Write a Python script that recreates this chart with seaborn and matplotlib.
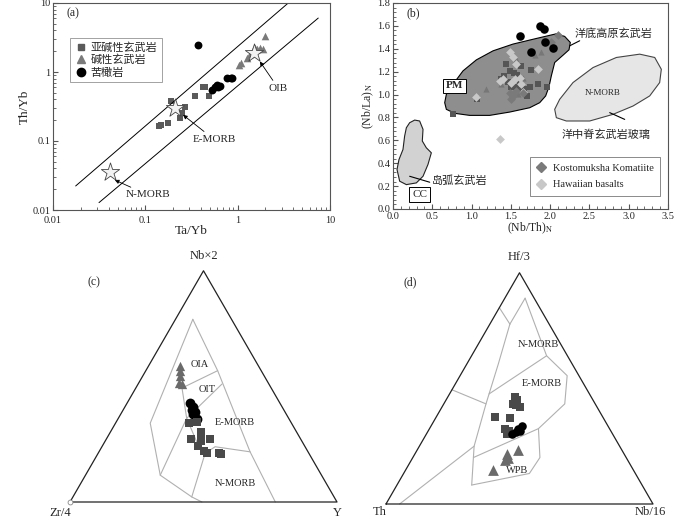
import numpy as np
import pandas as pd
import matplotlib
matplotlib.use('Agg')
import matplotlib.pyplot as plt
import seaborn as sns
from matplotlib.ticker import AutoMinorLocator, FuncFormatter, LogLocator
from matplotlib.lines import Line2D

# ---------------- (a) Th/Yb vs Ta/Yb ----------------
sub_tayb = [0.141, 0.149, 0.177, 0.192, 0.236, 0.252, 0.268, 0.343, 0.423, 0.44, 0.487]
sub_thyb = [0.166, 0.171, 0.185, 0.382, 0.219, 0.253, 0.316, 0.452, 0.597, 0.61, 0.452]
alk_tayb = [1.04, 1.10, 1.25, 1.36, 1.45, 1.54, 1.63, 1.74, 1.87, 1.97]
alk_thyb = [1.26, 1.35, 1.59, 1.82, 2.10, 2.22, 2.15, 2.22, 2.15, 3.28]
pic_tayb = [0.373, 0.533, 0.566, 0.590, 0.615, 0.64, 0.776, 0.84, 0.87]
pic_thyb = [2.48, 0.552, 0.603, 0.652, 0.603, 0.62, 0.814, 0.81, 0.82]
ref_names = ['N-MORB', 'E-MORB', 'OIB']
ref_tayb = [0.041, 0.21, 1.5]
ref_thyb = [0.036, 0.30, 1.9]
array_upper = ([0.0176, 3.53], [0.0223, 10.0])
array_lower = ([0.0315, 7.46], [0.0128, 6.05])

# ---------------- (b) (Nb/La)N vs (Nb/Th)N ----------------
pm_field = [(0.658, 0.929), (0.679, 1.002), (0.764, 1.090), (0.891, 1.207), (1.061, 1.303),
            (1.273, 1.382), (1.527, 1.441), (1.824, 1.490), (2.079, 1.531), (2.185, 1.508),
            (2.257, 1.455), (2.240, 1.391), (2.164, 1.344), (2.058, 1.280), (2.015, 1.163),
            (1.986, 1.070), (1.943, 0.988), (1.867, 0.929), (1.740, 0.885), (1.485, 0.847),
            (1.230, 0.818), (0.976, 0.818), (0.785, 0.836), (0.679, 0.871)]
cc_field = [(0.212, 0.754), (0.276, 0.777), (0.339, 0.769), (0.382, 0.696), (0.373, 0.594),
            (0.424, 0.535), (0.488, 0.491), (0.445, 0.389), (0.382, 0.286), (0.297, 0.228),
            (0.170, 0.213), (0.085, 0.243), (0.051, 0.345), (0.076, 0.432), (0.127, 0.520),
            (0.148, 0.637), (0.170, 0.710)]
nmorb_field = [(2.058, 0.871), (2.121, 0.958), (2.291, 1.105), (2.546, 1.236), (2.843, 1.324),
               (3.140, 1.353), (3.331, 1.324), (3.415, 1.221), (3.394, 1.105), (3.267, 0.988),
               (3.055, 0.900), (2.800, 0.827), (2.503, 0.769), (2.206, 0.769), (2.079, 0.798)]

b_sq_x = [1.442, 1.409, 1.379, 1.485, 1.536, 1.578, 1.612, 1.633, 1.506, 1.561, 1.604, 1.663,
          1.740, 1.710, 1.846, 1.964, 1.069, 0.764, 1.464, 1.761]
b_sq_y = [1.265, 1.163, 1.134, 1.207, 1.192, 1.169, 1.105, 1.251, 1.070, 1.070, 1.040, 1.046,
          1.070, 0.988, 1.096, 1.070, 0.964, 0.827, 1.111, 1.216]
b_tri_x = [1.188, 1.570, 1.803, 1.888, 1.655, 1.379, 1.591]
b_tri_y = [1.052, 1.315, 1.344, 1.373, 1.148, 1.090, 1.002]
b_cir_x = [1.612, 1.867, 1.918, 1.930, 1.761, 2.036]
b_cir_y = [1.514, 1.601, 1.572, 1.455, 1.368, 1.411]
kost_x = [2.100, 2.015, 1.506, 1.527, 1.570, 1.485, 1.655]
kost_y = [1.523, 1.455, 0.958, 0.988, 1.032, 1.017, 1.017]
hawaii_x = [1.485, 1.527, 1.570, 1.846, 1.358, 1.400, 1.549, 1.612, 1.506, 1.052, 1.358, 1.655, 1.633]
hawaii_y = [1.368, 1.324, 1.265, 1.227, 1.119, 1.134, 1.134, 1.148, 1.105, 0.982, 0.608, 1.023, 1.090]

# ---------------- (c) Nb*2 - Zr/4 - Y (percent: top, right) ----------------
c_lines = [
    [(79.0, 6.5), (34.1, 13.0), (11.6, 28.0), (2.2, 44.5), (0.0, 49.4)],
    [(79.0, 6.5), (56.8, 26.9), (21.7, 56.6), (0.0, 76.9)],
    [(49.3, 17.3), (56.8, 26.9)],
    [(49.3, 17.3), (36.2, 25.6)],
    [(11.6, 28.0), (36.2, 25.6), (51.0, 31.4)],
    [(36.2, 25.6), (23.2, 36.9), (21.0, 40.1), (23.9, 42.4), (21.7, 56.6)],
    [(21.0, 40.1), (2.2, 44.5)],
]
c_tri_nb = [58.7, 56.5, 54.6, 51.4, 51.0]
c_tri_y = [11.9, 13.1, 14.0, 15.3, 16.3]
c_cir_nb = [42.8, 41.3, 39.9, 39.1, 38.1, 35.9]
c_cir_y = [23.4, 25.6, 25.7, 27.3, 27.0, 29.5]
c_sq_nb = [34.3, 34.5, 30.4, 28.6, 26.5, 27.1, 27.1, 24.2, 22.2, 21.0, 21.3, 20.7]
c_sq_y = [27.6, 30.3, 33.8, 34.7, 35.8, 31.7, 39.0, 36.0, 39.2, 40.8, 45.0, 46.1]
c_labels = [('OIA', 59.4, 19.0), ('OIT', 48.6, 27.0), ('E-MORB', 34.4, 44.7), ('N-MORB', 8.0, 57.9)]

# ---------------- (d) Hf/3 - Th - Nb/16 (percent: top, right) ----------------
d_lines = [
    [(84.9, 0.0), (77.8, 7.5)],
    [(89.0, 7.6), (77.8, 7.5)],
    [(77.8, 7.5), (60.5, 11.8), (43.3, 15.8), (25.0, 20.5), (8.2, 28.0)],
    [(49.4, 0.0), (43.3, 15.8)],
    [(89.0, 7.6), (64.1, 28.1), (55.5, 40.1), (43.3, 45.3), (32.6, 40.8), (20.1, 47.6),
     (13.2, 47.1), (8.2, 28.0)],
    [(64.1, 28.1), (47.6, 14.8)],
    [(20.1, 22.7), (32.6, 40.8)],
    [(0.0, 5.1), (25.0, 20.5)],
]
d_sq_hf = [46.2, 45.1, 43.3, 42.6, 41.9, 37.6, 37.2, 32.6, 30.4, 31.6]
d_sq_nb = [25.2, 26.4, 25.8, 27.4, 29.2, 22.0, 27.9, 28.3, 30.0, 30.4]
d_cir_hf = [33.6, 32.4, 31.1, 30.1, 31.6]
d_cir_nb = [34.0, 33.4, 33.1, 32.1, 34.4]
d_tri_hf = [23.2, 21.8, 19.7, 18.9, 14.9]
d_tri_nb = [37.9, 34.6, 36.0, 35.1, 32.5]
d_labels = [('N-MORB', 68.9, 22.6), ('E-MORB', 52.2, 32.2), ('WPB', 14.3, 41.8)]


def tern_xy(top, right):
    top = np.asarray(top, dtype=float) / 100.0
    right = np.asarray(right, dtype=float) / 100.0
    return right + top / 2.0, top * np.sqrt(3) / 2.0


sns.set_style('ticks')
plt.rcParams['font.family'] = ['Liberation Serif', 'Noto Sans CJK SC', 'DejaVu Sans']
plt.rcParams['mathtext.fontset'] = 'stix'
plt.rcParams['axes.linewidth'] = 0.8
plt.rcParams['axes.edgecolor'] = '#555555'

SQ = '#5a5a5a'
TRI = '#7a7a7a'
CIR = '#000000'

fig = plt.figure(figsize=(7, 5.21), dpi=100)

# ===== (a) =====
ax = fig.add_axes([53 / 700, 1 - 210 / 521, 277 / 700, 207 / 521])
ax.set_xscale('log')
ax.set_yscale('log')
ax.plot(*array_upper, color='black', lw=0.7)
ax.plot(*array_lower, color='black', lw=0.7)
sns.scatterplot(x=sub_tayb, y=sub_thyb, marker='s', color=SQ, s=24, linewidth=0, ax=ax)
sns.scatterplot(x=alk_tayb, y=alk_thyb, marker='^', color=TRI, s=30, linewidth=0, ax=ax)
sns.scatterplot(x=pic_tayb, y=pic_thyb, marker='o', color=CIR, s=32, linewidth=0, ax=ax)
sns.scatterplot(x=ref_tayb, y=ref_thyb, marker='*', color='#f2f2f2', edgecolor='#444444',
                s=190, linewidth=0.6, ax=ax, zorder=5)
arrow = dict(arrowstyle='-|>', color='black', lw=0.6, shrinkA=0, shrinkB=0, mutation_scale=6)
ax.annotate('N-MORB', xy=(0.0467, 0.0272), xytext=(0.0614, 0.0165), ha='left', va='center',
            fontsize=8, arrowprops=arrow)
ax.annotate('E-MORB', xy=(0.256, 0.239), xytext=(0.552, 0.106), ha='center', va='center',
            fontsize=8, arrowprops=arrow)
ax.annotate('OIB', xy=(1.74, 1.42), xytext=(2.75, 0.583), ha='center', va='center',
            fontsize=8, arrowprops=arrow)
ax.set_xlim(0.01, 10)
ax.set_ylim(0.01, 10)
fmt = FuncFormatter(lambda v, p: f'{v:g}')
ax.xaxis.set_major_formatter(fmt)
ax.yaxis.set_major_formatter(fmt)
ax.tick_params(which='both', direction='in', top=False, right=False, labelsize=7.5, pad=2,
               color='#555555')
ax.tick_params(axis='x', which='major', pad=4)
ax.tick_params(which='major', length=3.5)
ax.tick_params(which='minor', length=2)
ax.set_xlabel('Ta/Yb', fontsize=9.5, labelpad=0)
ax.set_ylabel('Th/Yb', fontsize=9.5, labelpad=1)
ax.text(0.05, 0.95, '(a)', transform=ax.transAxes, fontsize=8.5, va='center')
handles = [Line2D([], [], marker='s', color=SQ, ls='', markersize=5),
           Line2D([], [], marker='^', color=TRI, ls='', markersize=6),
           Line2D([], [], marker='o', color=CIR, ls='', markersize=6)]
leg = ax.legend(handles, ['亚碱性玄武岩', '碱性玄武岩', '苦橄岩'], loc='upper left',
                bbox_to_anchor=(0.04, 0.86), fontsize=8, frameon=True, fancybox=False,
                edgecolor='#777777', handletextpad=0.3, borderpad=0.4, labelspacing=0.2,
                handlelength=1.2)
leg.get_frame().set_linewidth(0.6)

# ===== (b) =====
bx = fig.add_axes([393 / 700, 1 - 209 / 521, 275 / 700, 206 / 521])
bx.fill(*zip(*pm_field), facecolor='#8e8e8e', edgecolor='black', lw=0.8, zorder=1)
bx.fill(*zip(*cc_field), facecolor='#d2d2d2', edgecolor='#222222', lw=0.8, zorder=1)
bx.fill(*zip(*nmorb_field), facecolor='#e6e6e6', edgecolor='#444444', lw=0.8, zorder=1)
sns.scatterplot(x=b_sq_x, y=b_sq_y, marker='s', color='#555555', s=16, linewidth=0, ax=bx, zorder=3)
sns.scatterplot(x=b_tri_x, y=b_tri_y, marker='^', color='#777777', s=20, linewidth=0, ax=bx, zorder=3)
sns.scatterplot(x=hawaii_x, y=hawaii_y, marker='D', color='#c8c8c8', s=20, linewidth=0, ax=bx, zorder=3)
sns.scatterplot(x=kost_x, y=kost_y, marker='D', color='#7a7a7a', s=20, linewidth=0, ax=bx, zorder=3)
sns.scatterplot(x=b_cir_x, y=b_cir_y, marker='o', color='black', s=38, linewidth=0, ax=bx, zorder=4)
bx.text(0.785, 1.075, 'PM', fontsize=8, fontweight='bold', ha='center', va='center',
        bbox=dict(boxstyle='square,pad=0.25', facecolor='white', edgecolor='black', lw=0.7))
bx.text(0.339, 0.126, 'CC', fontsize=8, ha='center', va='center',
        bbox=dict(boxstyle='square,pad=0.25', facecolor='white', edgecolor='black', lw=0.7))
bx.text(2.673, 1.017, 'N-MORB', fontsize=6.5, ha='center', va='center')
bx.text(2.81, 1.534, '洋底高原玄武岩', fontsize=8, ha='center', va='center')
bx.text(2.715, 0.652, '洋中脊玄武岩玻璃', fontsize=8, ha='center', va='center')
bx.text(0.844, 0.243, '岛弧玄武岩', fontsize=8, ha='center', va='center')
bx.plot([2.249, 2.376], [1.426, 1.470], color='black', lw=0.8)
bx.plot([2.758, 2.949], [0.842, 0.783], color='black', lw=0.8)
bx.plot([0.212, 0.467], [0.286, 0.234], color='black', lw=0.8)
bx.set_xlim(0, 3.5)
bx.set_ylim(0, 1.8)
bx.set_xticks(np.arange(0, 3.51, 0.5))
bx.set_yticks(np.arange(0, 1.81, 0.2))
bx.xaxis.set_major_formatter(FuncFormatter(lambda v, p: f'{v:.1f}'))
bx.yaxis.set_major_formatter(FuncFormatter(lambda v, p: f'{v:.1f}'))
bx.xaxis.set_minor_locator(AutoMinorLocator(5))
bx.yaxis.set_minor_locator(AutoMinorLocator(5))
bx.tick_params(which='both', direction='in', top=False, right=False, labelsize=7.5, pad=2,
               color='#555555')
bx.tick_params(which='major', length=3.5)
bx.tick_params(which='minor', length=2)
bx.set_xlabel('(Nb/Th)$_\\mathrm{N}$', fontsize=8.5, labelpad=0)
bx.set_ylabel('(Nb/La)$_\\mathrm{N}$', fontsize=8.5, labelpad=1)
bx.text(0.05, 0.95, '(b)', transform=bx.transAxes, fontsize=8.5, va='center')
bhandles = [Line2D([], [], marker='D', color='#7a7a7a', ls='', markersize=5),
            Line2D([], [], marker='D', color='#c8c8c8', ls='', markersize=5)]
bleg = bx.legend(bhandles, ['Kostomuksha Komatiite', 'Hawaiian basalts'], loc='lower right',
                 bbox_to_anchor=(0.99, 0.04), fontsize=7.5, frameon=True, fancybox=False,
                 edgecolor='#555555', handletextpad=0.6, borderpad=0.6, labelspacing=0.7,
                 handlelength=1.0)
bleg.get_frame().set_linewidth(0.6)


def ternary_frame(ax):
    ax.plot([0, 1, 0.5, 0], [0, 0, np.sqrt(3) / 2, 0], color='#222222', lw=0.9, zorder=2)
    ax.set_axis_off()


# ===== (c) =====
cx = fig.add_axes([0, 0, 350 / 700, 281 / 521])
cx.set_xlim(-70 / 267, 280 / 267)
cx.set_ylim(-19 / 267, 262 / 267)
ternary_frame(cx)
for line in c_lines:
    top, right = zip(*line)
    xs, ys = tern_xy(top, right)
    cx.plot(xs, ys, color='#b0b0b0', lw=0.8, zorder=1)
x, y = tern_xy(c_tri_nb, c_tri_y)
sns.scatterplot(x=x, y=y, marker='^', color='#6a6a6a', s=45, linewidth=0, ax=cx, zorder=3)
x, y = tern_xy(c_cir_nb, c_cir_y)
sns.scatterplot(x=x, y=y, marker='o', color='black', s=50, linewidth=0, ax=cx, zorder=3)
x, y = tern_xy(c_sq_nb, c_sq_y)
sns.scatterplot(x=x, y=y, marker='s', color='#4a4a4a', s=26, linewidth=0, ax=cx, zorder=3)
for name, top, right in c_labels:
    lx, ly = tern_xy(top, right)
    cx.text(lx, ly, name, fontsize=7.5, ha='center', va='center')
cx.plot([0], [0], marker='o', markersize=3.5, markerfacecolor='white', markeredgecolor='#888888',
        markeredgewidth=0.6, zorder=4)
cx.text(0.5, 0.922, 'Nb×2', fontsize=9, ha='center', va='center')
cx.text(-0.037, -0.040, 'Zr/4', fontsize=9, ha='center', va='center')
cx.text(1.0, -0.040, 'Y', fontsize=9, ha='center', va='center')
cx.text(0.067, 0.824, '(c)', fontsize=8.5, ha='left', va='center')

# ===== (d) =====
dx = fig.add_axes([350 / 700, 0, 350 / 700, 281 / 521])
dx.set_xlim(-36 / 267, 314 / 267)
dx.set_ylim(-17 / 267, 264 / 267)
ternary_frame(dx)
for line in d_lines:
    top, right = zip(*line)
    xs, ys = tern_xy(top, right)
    dx.plot(xs, ys, color='#b0b0b0', lw=0.8, zorder=1)
x, y = tern_xy(d_sq_hf, d_sq_nb)
sns.scatterplot(x=x, y=y, marker='s', color='#4a4a4a', s=28, linewidth=0, ax=dx, zorder=3)
x, y = tern_xy(d_cir_hf, d_cir_nb)
sns.scatterplot(x=x, y=y, marker='o', color='black', s=38, linewidth=0, ax=dx, zorder=3)
x, y = tern_xy(d_tri_hf, d_tri_nb)
sns.scatterplot(x=x, y=y, marker='^', color='#6a6a6a', s=60, linewidth=0, ax=dx, zorder=3)
for name, top, right in d_labels:
    lx, ly = tern_xy(top, right)
    dx.text(lx, ly, name, fontsize=7.5, ha='center', va='center')
dx.text(0.5, 0.925, 'Hf/3', fontsize=9, ha='center', va='center')
dx.text(-0.022, -0.030, 'Th', fontsize=9, ha='center', va='center')
dx.text(0.99, -0.030, 'Nb/16', fontsize=9, ha='center', va='center')
dx.text(0.064, 0.831, '(d)', fontsize=8.5, ha='left', va='center')

fig.savefig('out.png', dpi=100)
